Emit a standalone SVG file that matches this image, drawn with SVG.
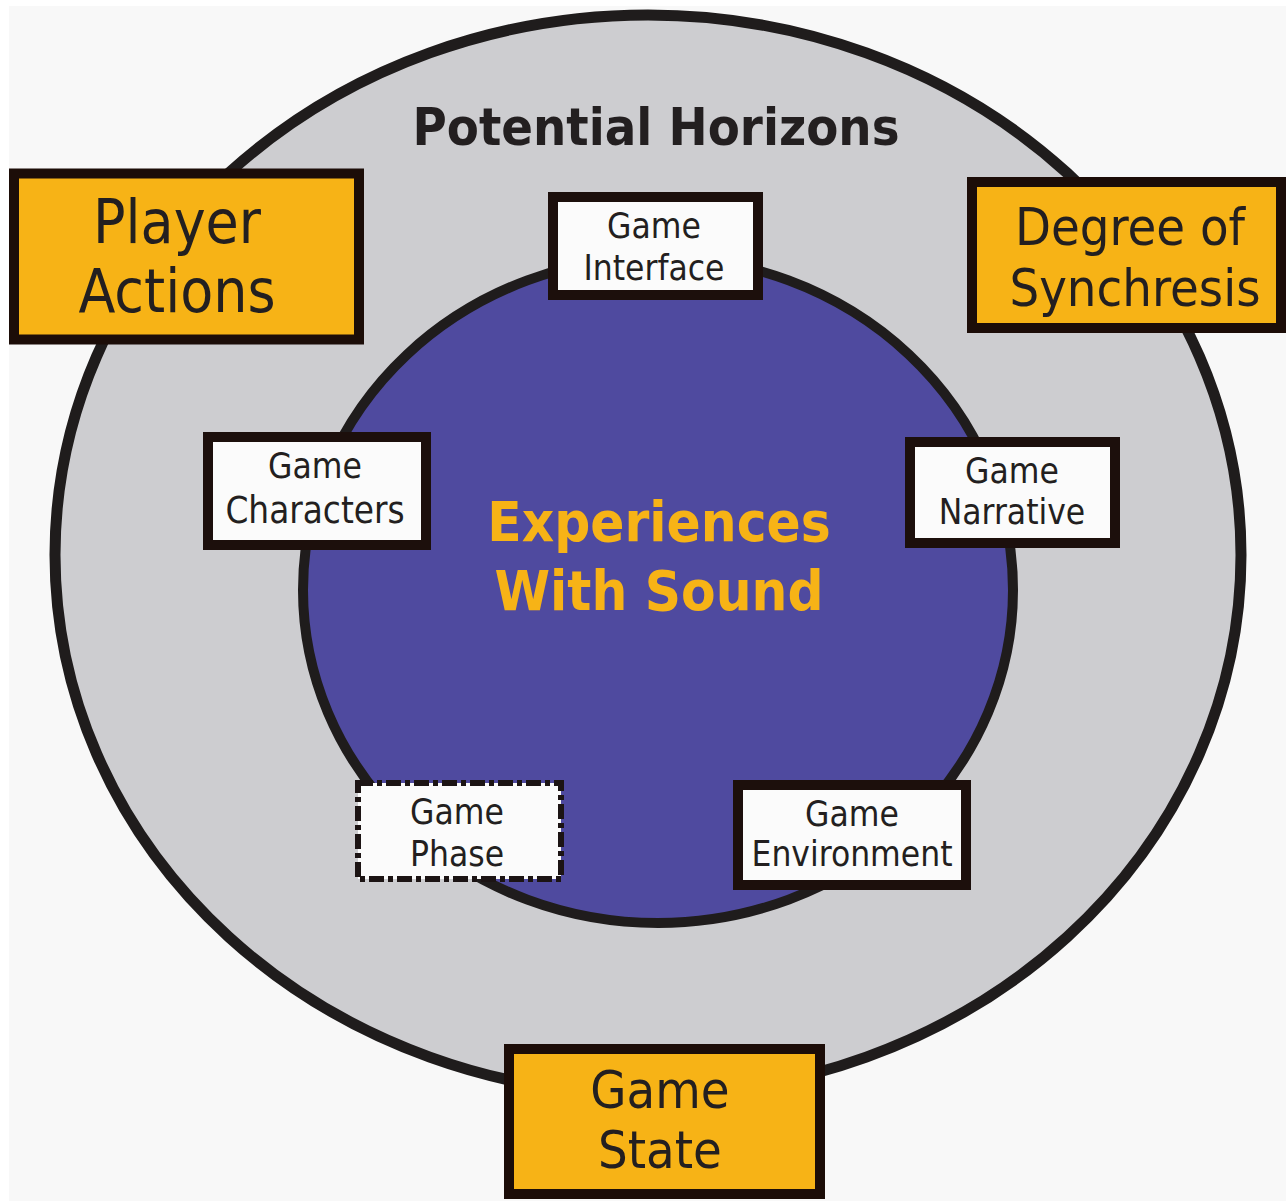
<svg xmlns="http://www.w3.org/2000/svg" width="1286" height="1201" viewBox="0 0 1286 1201">
  <style>
    .lbl { font-family: "DejaVu Sans Condensed", "DejaVu Sans", sans-serif; font-stretch: condensed; fill: #231f20; text-anchor: middle; }
    .big { font-size: 52px; }
    .small { font-size: 35px; }
    .bold { font-weight: bold; }
    .accent { fill: #f7b316; }
    .orange { fill: #f7b316; stroke: #1c0d08; stroke-width: 10; }
    .white { fill: #fbfbfb; stroke: #1c0f0c; stroke-width: 10; }
    .dashed { fill: #fbfbfb; stroke: #1c1414; stroke-width: 6; stroke-dasharray: 15 4 5 4; }
  </style>

  <!-- page -->
  <rect x="0" y="0" width="1286" height="1201" fill="#ffffff"/>
  <rect x="9" y="6" width="1277" height="1195" fill="#f8f8f8"/>

  <!-- rings -->
  <g id="rings">
    <ellipse id="outer-ring" cx="648" cy="555" rx="593" ry="540" fill="#cdcdd0" stroke="#1f1c1c" stroke-width="11"/>
    <ellipse id="inner-ring" cx="658" cy="590" rx="355" ry="333" fill="#4f4a9f" stroke="#1f1c1c" stroke-width="10"/>
  </g>

  <!-- ring titles -->
  <text id="title-horizons" class="lbl bold" x="656" y="145" font-size="52">Potential Horizons</text>
  <g id="title-center">
    <text class="lbl bold accent" x="659" y="541" font-size="56">Experiences</text>
    <text class="lbl bold accent" x="659" y="610" font-size="56">With Sound</text>
  </g>

  <!-- outer nodes -->
  <g id="player-actions">
    <rect class="orange" x="14" y="173.5" width="345" height="166"/>
    <text class="lbl" x="177" y="243" font-size="60">Player</text>
    <text class="lbl" x="177" y="312" font-size="60">Actions</text>
  </g>
  <g id="degree-of-synchresis">
    <rect class="orange" x="972" y="182" width="309" height="146"/>
    <text class="lbl big" x="1130" y="245">Degree of</text>
    <text class="lbl big" x="1135" y="306">Synchresis</text>
  </g>
  <g id="game-state">
    <rect class="orange" x="509" y="1049" width="311" height="145"/>
    <text class="lbl big" x="660" y="1108">Game</text>
    <text class="lbl big" x="660" y="1168">State</text>
  </g>

  <!-- inner nodes -->
  <g id="game-interface">
    <rect class="white" x="553" y="197" width="205" height="98"/>
    <text class="lbl small" x="654" y="238">Game</text>
    <text class="lbl small" x="654" y="280">Interface</text>
  </g>
  <g id="game-characters">
    <rect class="white" x="208" y="437" width="218" height="108"/>
    <text class="lbl small" x="315" y="478" font-size="36.5">Game</text>
    <text class="lbl" x="315" y="523" font-size="36.5">Characters</text>
  </g>
  <g id="game-narrative">
    <rect class="white" x="910" y="442" width="205" height="101"/>
    <text class="lbl small" x="1012" y="483">Game</text>
    <text class="lbl small" x="1012" y="524">Narrative</text>
  </g>
  <g id="game-phase">
    <rect class="dashed" x="358" y="783" width="203" height="96"/>
    <text class="lbl small" x="457" y="824">Game</text>
    <text class="lbl small" x="457" y="866">Phase</text>
  </g>
  <g id="game-environment">
    <rect class="white" x="738" y="785" width="228" height="100"/>
    <text class="lbl small" x="852" y="826">Game</text>
    <text class="lbl small" x="852" y="866">Environment</text>
  </g>
</svg>
